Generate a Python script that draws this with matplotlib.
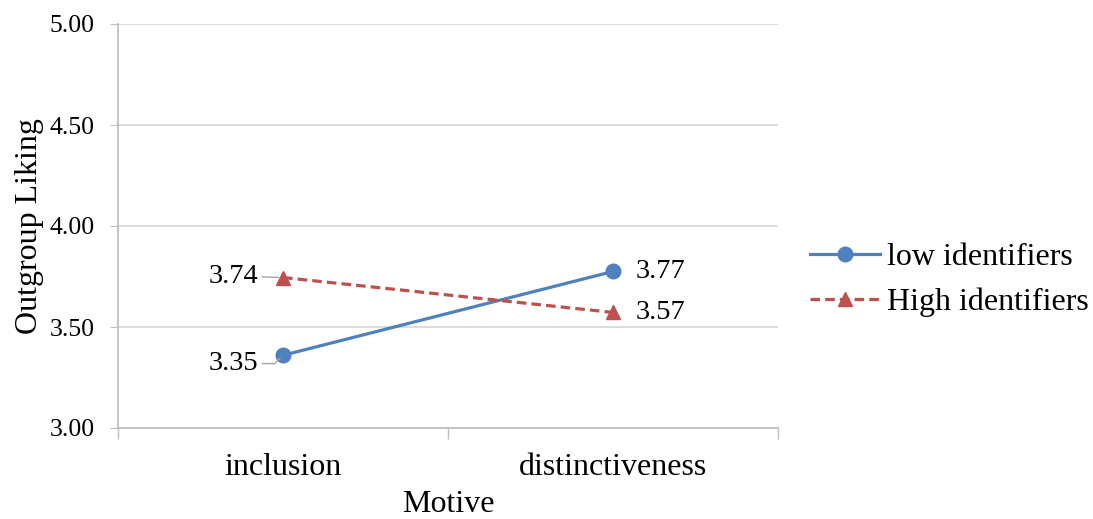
import matplotlib
matplotlib.use("Agg")
from matplotlib import pyplot as plt

# data
motives = ["inclusion", "distinctiveness"]
low_ident = [3.36, 3.775]
high_ident = [3.745, 3.572]
low_labels = ["3.35", "3.77"]
high_labels = ["3.74", "3.57"]
yticks = [3.00, 3.50, 4.00, 4.50, 5.00]

plt.rcParams['font.family'] = ['Liberation Serif', 'DejaVu Serif']

fig = plt.figure(figsize=(10.93, 5.19), dpi=100)
ax = fig.add_axes([118 / 1093, 91 / 519, 660 / 1093, 404 / 519])

blue = "#4F81BD"
red = "#C0504D"
xs = list(range(len(motives)))

ax.plot(xs, low_ident, color=blue, lw=2.3, marker="o", ms=10.5, label="low identifiers", zorder=3)
ax.plot(xs, high_ident, color=red, lw=2.3, ls=(0, (3, 1.6)), marker="^", ms=10.5,
        label="High identifiers", zorder=3)

# data labels
lead = dict(arrowstyle="-", color="#A6A6A6", lw=1, shrinkA=1, shrinkB=3)
ax.annotate(low_labels[0], (xs[0], low_ident[0]), xytext=(-18, -6), textcoords="offset points",
            ha="right", va="center", fontsize=20.5,
            arrowprops=dict(lead, connectionstyle="angle,angleA=0,angleB=45,rad=0"))
ax.annotate(high_labels[0], (xs[0], high_ident[0]), xytext=(-18, 1), textcoords="offset points",
            ha="right", va="center", fontsize=20.5, arrowprops=lead)
ax.annotate(low_labels[1], (xs[1], low_ident[1]), xytext=(16, 0), textcoords="offset points",
            ha="left", va="center", fontsize=20.5)
ax.annotate(high_labels[1], (xs[1], high_ident[1]), xytext=(16, 0), textcoords="offset points",
            ha="left", va="center", fontsize=20.5)

ax.set_xlim(-0.5, len(motives) - 0.5)
ax.set_ylim(3.0, 5.0)
ax.set_yticks(yticks)
ax.set_yticklabels([f"{v:.2f}" for v in yticks], fontsize=18.5)
ax.set_xticks(xs)
ax.set_xticklabels(motives, fontsize=23)
ax.tick_params(axis="x", length=0, pad=18)
ax.tick_params(axis="y", length=6, color="#BFBFBF", pad=11)
# category boundary ticks
ax.set_xticks([-0.5, 0.5, 1.5], minor=True)
ax.tick_params(axis="x", which="minor", length=8, color="#BFBFBF", width=1)

ax.grid(axis="y", color="#D9D9D9", lw=1.3)
ax.set_axisbelow(True)
for side in ["top", "right"]:
    ax.spines[side].set_visible(False)
ax.spines["left"].set_color("#BFBFBF")
ax.spines["bottom"].set_color("#BFBFBF")
ax.spines["left"].set_linewidth(1.3)
ax.spines["bottom"].set_linewidth(1.3)

ax.set_ylabel("Outgroup Liking", fontsize=23, labelpad=4)
ax.set_xlabel("Motive", fontsize=23, labelpad=6)

fig.legend(loc="center left", bbox_to_anchor=(781 / 1093, 1 - 280 / 519), frameon=False,
           fontsize=23, handlelength=2.2, handletextpad=0.22, labelspacing=0.5)

fig.savefig("out.png", dpi=100)
